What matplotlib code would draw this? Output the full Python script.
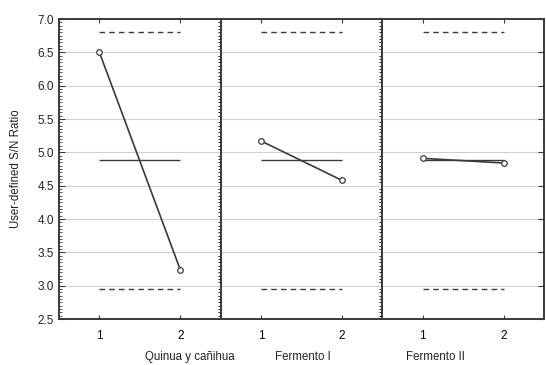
import matplotlib.pyplot as plt
from matplotlib.ticker import MultipleLocator

plt.rcParams['font.family'] = ['Liberation Sans', 'DejaVu Sans']

factors = ["Quinua y cañihua", "Fermento I", "Fermento II"]
levels = [1, 2]
sn_values = [[6.50, 3.24], [5.17, 4.58], [4.91, 4.84]]
grand_mean = 4.88
upper_limit = 6.80
lower_limit = 2.95
label_x = [190, 303, 435]  # pixel centres of factor labels

fig = plt.figure(figsize=(5.46, 3.65), dpi=100)
fig.patch.set_facecolor("white")
axes = fig.subplots(1, 3, sharey=True)
fig.subplots_adjust(left=59 / 546, right=544 / 546, top=1 - 19 / 365,
                    bottom=1 - 319 / 365, wspace=0)

dark = "#3a3a3a"
for i, ax in enumerate(axes):
    ax.set_xlim(0.5, 2.5)
    ax.set_ylim(2.5, 7.0)
    ax.yaxis.set_major_locator(MultipleLocator(0.5))
    ax.grid(axis="y", color="#d0d0d0", linewidth=0.8)
    ax.set_axisbelow(True)
    ax.hlines(upper_limit, levels[0], levels[1], colors=dark, linestyles=(0, (4, 3)), linewidth=1)
    ax.hlines(lower_limit, levels[0], levels[1], colors=dark, linestyles=(0, (4, 3)), linewidth=1)
    ax.hlines(grand_mean, levels[0], levels[1], colors=dark, linewidth=1)
    ax.plot(levels, sn_values[i], color=dark, linewidth=1.2, marker="o",
            markersize=4, markerfacecolor="white", markeredgecolor=dark, markeredgewidth=0.9)
    ax.set_xticks(levels)
    ax.tick_params(axis="x", direction="in", top=True, length=3, color=dark,
                   labelsize=8.5, pad=8)
    ax.tick_params(axis="y", left=False, right=False)
    for s in ax.spines.values():
        s.set_color(dark)
        s.set_linewidth(1.4)
    fig.text(label_x[i] / 546, 1 - 357 / 365, factors[i], ha="center", va="center",
             fontsize=8.3, color="#222222")

axes[0].yaxis.set_minor_locator(MultipleLocator(0.05))
axes[0].tick_params(axis="y", which="major", left=True, direction="in", length=4,
                    color=dark, labelsize=8.5, labelcolor="#222222")
axes[0].tick_params(axis="y", which="minor", left=True, direction="in", length=2,
                    color=dark)
axes[2].tick_params(axis="y", which="major", right=True, direction="in", length=4,
                    color=dark)
axes[0].set_ylabel("User-defined S/N Ratio", fontsize=8.3, color="#222222")
axes[0].yaxis.set_label_coords(-37 / 163, 0.5)
axes[0].yaxis.set_major_formatter(plt.FormatStrFormatter("%.1f"))

fig.savefig("out.png", dpi=100)
